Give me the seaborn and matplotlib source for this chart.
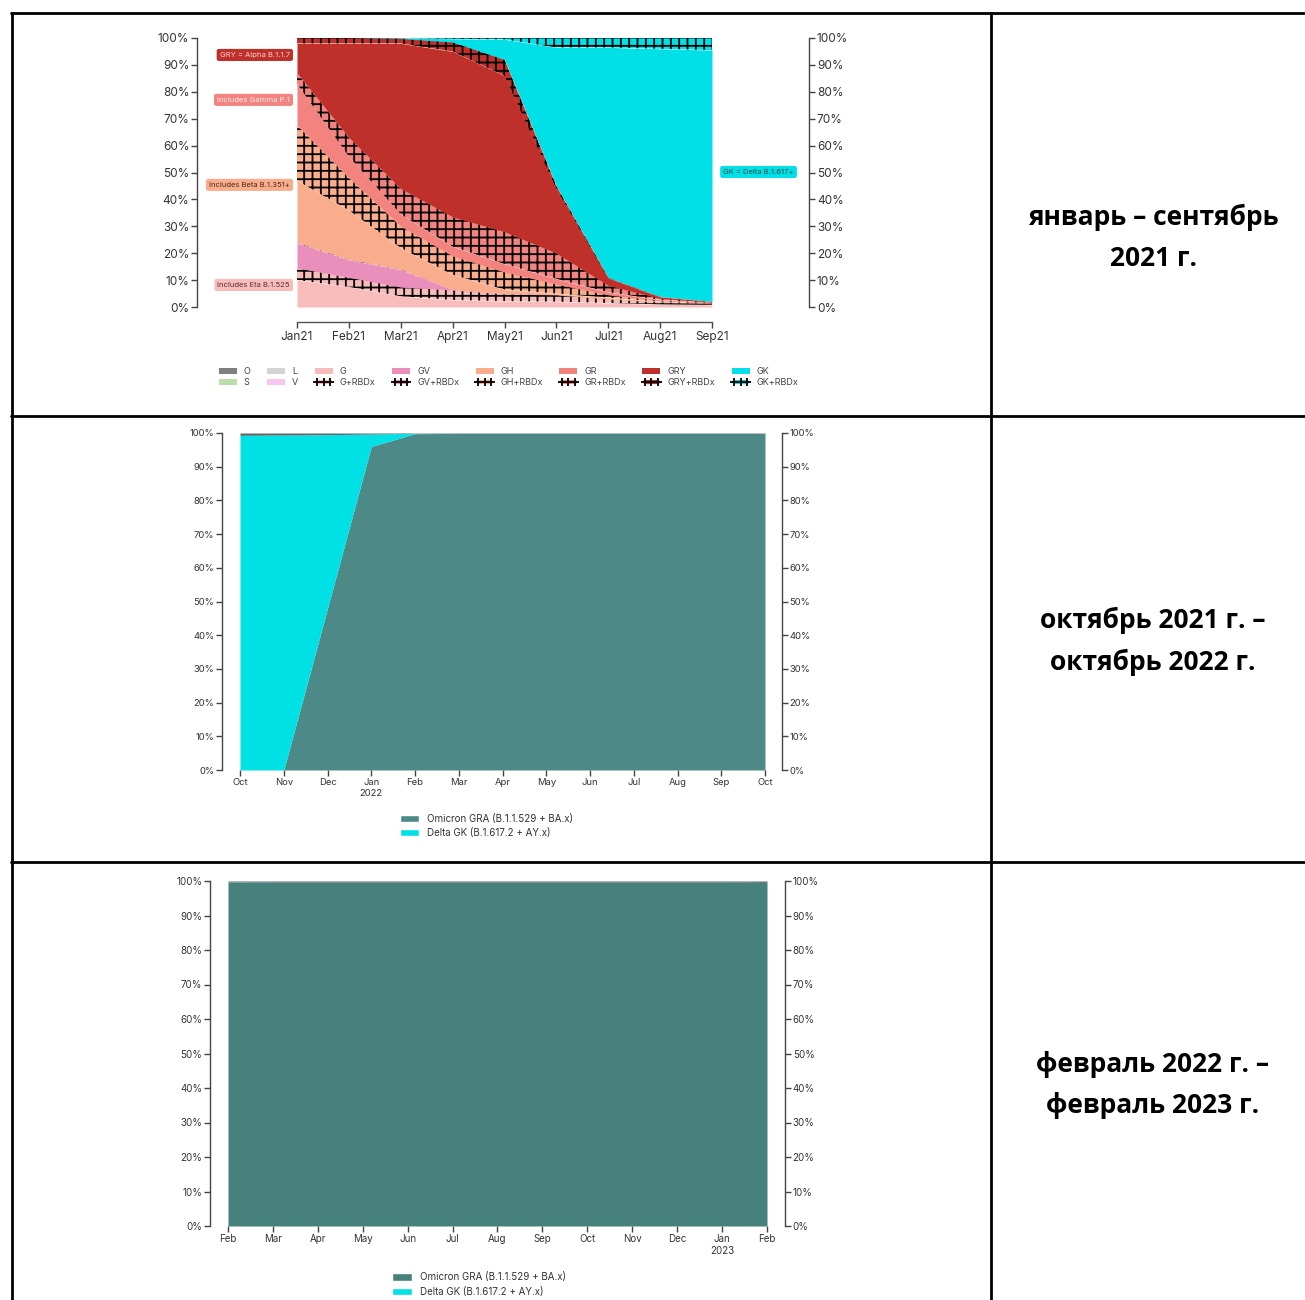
import numpy as np
import matplotlib
matplotlib.use('Agg')
import matplotlib.pyplot as plt
from matplotlib.lines import Line2D
from matplotlib.patches import Patch
import seaborn as sns

# --- chart 1: Jan21 - Sep21, share of clades (%)
months1 = ['Jan21', 'Feb21', 'Mar21', 'Apr21', 'May21', 'Jun21', 'Jul21', 'Aug21', 'Sep21']
g      = [10, 7.5, 4, 2.6, 2.2, 2, 1.5, 1, 0.8]
g_r    = [4.5, 3.5, 3.4, 3.7, 2.6, 2.5, 1.5, 0.8, 0.4]
gv     = [9.3, 6.5, 6.4, 0.2, 0.2, 0, 0, 0, 0]
gv_r   = [0.2, 0.2, 0.2, 0, 0, 0, 0, 0, 0]
gh     = [23, 18.3, 8, 5.5, 1.5, 0.5, 0.5, 0.2, 0.1]
gh_r   = [20.6, 12, 8, 7, 6.5, 3.5, 1, 0.4, 0.2]
gr     = [15.4, 8, 4.5, 3.5, 3, 2, 1, 0.3, 0.1]
gr_r   = [4, 7, 9.5, 11, 12, 9.5, 2.5, 0.5, 0.2]
gry    = [11, 35, 54, 61.5, 58, 24, 2.8, 0.6, 0.2]
gry_r  = [2, 2, 1.8, 3.5, 6, 1, 0.2, 0.1, 0.1]
gk     = [0, 0, 0.2, 1.2, 7.5, 51.5, 85.5, 92.1, 93.4]
gk_r   = [0, 0, 0, 0.3, 0.5, 3.5, 3.5, 4, 4.5]

legend1 = ['O', 'S', 'L', 'V', 'G', 'G+RBDx', 'GV', 'GV+RBDx', 'GH', 'GH+RBDx',
           'GR', 'GR+RBDx', 'GRY', 'GRY+RBDx', 'GK', 'GK+RBDx']

# --- chart 2: Oct 2021 - Oct 2022
months2 = ['Oct', 'Nov', 'Dec', 'Jan\n2022', 'Feb', 'Mar', 'Apr', 'May', 'Jun', 'Jul', 'Aug', 'Sep', 'Oct']
omicron2 = [0, 0, 48, 96, 99.8, 99.9, 99.9, 99.9, 99.9, 99.9, 99.9, 99.9, 99.9]
delta2   = [99.3, 99.4, 51.5, 3.7, 0.1, 0, 0, 0, 0, 0, 0, 0, 0]
other2   = [0.7, 0.6, 0.5, 0.3, 0.1, 0.1, 0.1, 0.1, 0.1, 0.1, 0.1, 0.1, 0.1]

# --- chart 3: Feb 2022 - Feb 2023
months3 = ['Feb', 'Mar', 'Apr', 'May', 'Jun', 'Jul', 'Aug', 'Sep', 'Oct', 'Nov', 'Dec', 'Jan\n2023', 'Feb']
omicron3 = [99.6, 99.7, 99.7, 99.7, 99.7, 99.7, 99.7, 99.7, 99.7, 99.7, 99.7, 99.7, 99.6]
delta3   = [0.1, 0, 0, 0, 0, 0, 0, 0, 0, 0, 0, 0, 0]
other3   = [0.3, 0.3, 0.3, 0.3, 0.3, 0.3, 0.3, 0.3, 0.3, 0.3, 0.3, 0.3, 0.4]

legend23 = ['Omicron GRA (B.1.1.529 + BA.x)', 'Delta GK (B.1.617.2 + AY.x)']

row_labels = ['январь – сентябрь\n2021 г.',
              'октябрь 2021 г. –\nоктябрь 2022 г.',
              'февраль 2022 г. –\nфевраль 2023 г.']

sns.set_theme(style='ticks')
plt.rcParams['font.family'] = ['Inter', 'DejaVu Sans']
plt.rcParams['hatch.linewidth'] = 1.3

col = {'O': '#7f7f7f', 'S': '#bcdcab', 'L': '#d4d4d4', 'V': '#f8c6f0',
       'G': '#f8bcbb', 'GV': '#ea8fbb', 'GH': '#f9ad8c', 'GR': '#f3837f',
       'GRY': '#c0302b', 'GK': '#00e0e6'}
omi_c = '#4d8a87'
omi_c3 = '#46817e'
delta_c = '#00e1e6'
axis_c = '#444444'

W, H = 1305, 1300
fig = plt.figure(figsize=(W / 100, H / 100), dpi=100)


def px_ax(x0, x1, y0, y1):
    return fig.add_axes([x0 / W, 1 - y1 / H, (x1 - x0) / W, (y1 - y0) / H])


def style_axis(ax, months, left_off, right_off, bottom_off, fs):
    ax.set_ylim(0, 100)
    ax.set_xlim(0, len(months) - 1)
    ax.set_xticks(range(len(months)))
    ax.set_xticklabels(months)
    ax.set_yticks(range(0, 101, 10))
    ax.set_yticklabels([f'{v}%' for v in range(0, 101, 10)])
    ax.spines['top'].set_visible(False)
    for s in ['left', 'right', 'bottom']:
        ax.spines[s].set_color(axis_c)
        ax.spines[s].set_linewidth(1.0)
    ax.spines['left'].set_position(('outward', left_off))
    ax.spines['right'].set_position(('outward', right_off))
    ax.spines['bottom'].set_position(('outward', bottom_off))
    ax.tick_params(axis='y', which='both', left=True, right=True, labelleft=True,
                   labelright=True, direction='out', length=4, width=1.0,
                   color=axis_c, labelcolor='#333333', labelsize=fs, pad=1.5)
    ax.tick_params(axis='x', direction='out', length=4, width=1.0, color=axis_c,
                   labelcolor='#333333', labelsize=fs, pad=2)
    ax.set_facecolor('none')


# ---------------- chart 1
ax1 = px_ax(297, 712, 38, 307)
x1 = np.arange(len(months1))
layers = [g, g_r, gv, gv_r, gh, gh_r, gr, gr_r, gry, gry_r, gk, gk_r]
lay_cols = [col['G'], col['G'], col['GV'], col['GV'], col['GH'], col['GH'],
            col['GR'], col['GR'], col['GRY'], col['GRY'], col['GK'], col['GK']]
lay_hatch = [None, '++', None, '++', None, '++', None, '++', None, '++', None, '++']
ax1.stackplot(x1, *layers, colors=lay_cols, hatch=lay_hatch,
              edgecolor='black', linewidth=0)
style_axis(ax1, months1, 72, 70, 11, 8.5)
ax1.spines['bottom'].set_color('#555555')

blend = ax1.get_yaxis_transform()
boxes = [('GRY = Alpha B.1.1.7', 93.7, col['GRY'], '#f6d0cc'),
         ('Includes Gamma P.1', 77, col['GR'], '#fff0f0'),
         ('Includes Beta B.1.351+', 45.4, col['GH'], '#4a2a1a'),
         ('Includes Eta B.1.525', 8.2, col['G'], '#5a3030')]
for txt, yv, fc, tc in boxes:
    ax1.text(-0.017, yv, txt, transform=blend, ha='right', va='center',
             fontsize=5.5, color=tc,
             bbox=dict(boxstyle='round,pad=0.4,rounding_size=0.3', fc=fc, ec='none'))
ax1.text(1.027, 50.2, 'GK = Delta B.1.617+', transform=blend, ha='left', va='center',
         fontsize=5.5, color='#1f4a4a',
         bbox=dict(boxstyle='round,pad=0.4,rounding_size=0.3', fc=col['GK'], ec='none'))

handles = []
for name in legend1:
    base = name.replace('+RBDx', '')
    if name.endswith('+RBDx'):
        handles.append(Line2D([], [], color=col[base], lw=3, marker='+', ms=6,
                              mew=1.3, mec='black'))
    else:
        handles.append(Patch(facecolor=col[base], edgecolor='none'))
ax1.legend(handles, legend1, loc='upper left', bbox_to_anchor=(-0.2, -0.207),
           ncol=8, frameon=False, fontsize=6.5, numpoints=3, handlelength=2.0,
           handleheight=0.7, handletextpad=0.8, columnspacing=1.8,
           labelspacing=0.25, borderpad=0, labelcolor='#444444')

# ---------------- chart 2
ax2 = px_ax(240, 765, 433, 770)
x2 = np.arange(len(months2))
ax2.stackplot(x2, omicron2, delta2, other2, colors=[omi_c, delta_c, '#5a6a6a'],
              linewidth=0)
style_axis(ax2, months2, 13, 12, 0, 6.8)
ax2.spines['bottom'].set_visible(False)
ax2.legend(handles=[Patch(fc=omi_c), Patch(fc=delta_c)], labels=legend23,
           loc='upper left', bbox_to_anchor=(0.295, -0.115), frameon=False,
           fontsize=7, handlelength=2.0, handleheight=0.8, handletextpad=0.8,
           labelspacing=0.45, borderpad=0, labelcolor='#333333')

# ---------------- chart 3
ax3 = px_ax(228, 767, 881, 1226)
x3 = np.arange(len(months3))
ax3.stackplot(x3, omicron3, delta3, other3, colors=[omi_c3, delta_c, '#5a6a6a'],
              linewidth=0)
style_axis(ax3, months3, 13, 13, 0, 7)
ax3.spines['bottom'].set_visible(False)
ax3.legend(handles=[Patch(fc=omi_c3), Patch(fc=delta_c)], labels=legend23,
           loc='upper left', bbox_to_anchor=(0.296, -0.12), frameon=False,
           fontsize=7, handlelength=2.0, handleheight=0.8, handletextpad=0.8,
           labelspacing=0.45, borderpad=0, labelcolor='#333333')

# ---------------- table grid and row captions
lw = 2.0
for (xa, xb, ya, yb) in [(11.5, 11.5, 13, 1300), (991, 991, 13, 1300),
                          (11, 1305, 13, 13), (11, 1305, 416, 416), (11, 1305, 862, 862)]:
    fig.add_artist(Line2D([xa / W, xb / W], [1 - ya / H, 1 - yb / H], color='black',
                          lw=lw, transform=fig.transFigure))

for txt, yc in zip(row_labels, [238, 641, 1085]):
    fig.text(1153 / W, 1 - yc / H, txt, ha='center', va='center', fontsize=19,
             fontweight='bold', linespacing=1.7, color='black',
             family=['Open Sans', 'DejaVu Sans'])

fig.savefig('out.png', dpi=100, facecolor='white')
